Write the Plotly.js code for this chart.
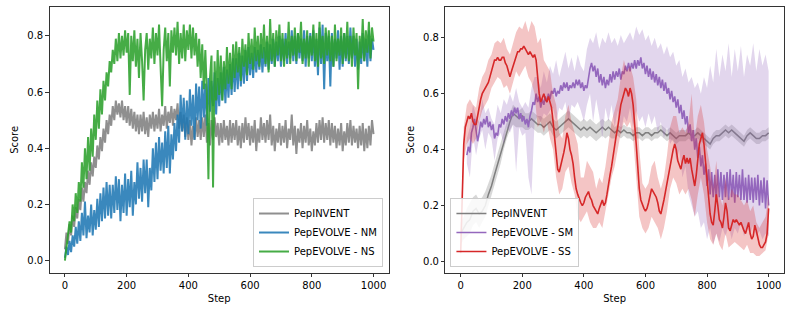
<!DOCTYPE html>
<html>
<head>
<meta charset="utf-8">
<script src="https://cdn.plot.ly/plotly-3.0.1.min.js"></script>
<style>
html,body{margin:0;padding:0;background:#fff;}
#chart{width:793px;height:316px;}
</style>
</head>
<body>
<div id="chart"></div>
<script>
// ---------- Left panel (steps 0..1000, every 5) ----------
const leftPepINVENT = [
0.04,0.10,0.06,0.13,0.09,0.16,0.12,0.19,0.15,0.22,
0.18,0.26,0.21,0.28,0.24,0.32,0.27,0.35,0.30,0.37,
0.33,0.41,0.36,0.44,0.39,0.47,0.42,0.50,0.45,0.52,
0.48,0.55,0.50,0.57,0.52,0.56,0.51,0.57,0.50,0.55,
0.49,0.55,0.48,0.54,0.47,0.53,0.46,0.52,0.45,0.52,
0.46,0.53,0.45,0.51,0.44,0.52,0.47,0.53,0.46,0.52,
0.47,0.54,0.46,0.52,0.48,0.55,0.47,0.53,0.49,0.55,
0.48,0.54,0.50,0.56,0.47,0.53,0.46,0.52,0.44,0.51,
0.43,0.50,0.41,0.48,0.43,0.51,0.44,0.50,0.43,0.51,
0.44,0.52,0.42,0.49,0.41,0.50,0.43,0.51,0.44,0.49,
0.41,0.49,0.42,0.50,0.43,0.48,0.41,0.50,0.42,0.49,
0.43,0.50,0.41,0.48,0.40,0.49,0.42,0.51,0.43,0.49,
0.41,0.48,0.42,0.50,0.39,0.47,0.42,0.51,0.43,0.49,
0.42,0.50,0.43,0.52,0.41,0.48,0.39,0.47,0.42,0.49,
0.41,0.48,0.42,0.50,0.40,0.47,0.43,0.52,0.41,0.48,
0.38,0.47,0.42,0.49,0.40,0.48,0.42,0.50,0.41,0.47,
0.39,0.46,0.41,0.49,0.42,0.50,0.43,0.51,0.42,0.49,
0.43,0.50,0.41,0.49,0.42,0.48,0.40,0.47,0.41,0.49,
0.39,0.46,0.41,0.49,0.42,0.50,0.41,0.48,0.42,0.47,
0.40,0.48,0.41,0.49,0.39,0.47,0.40,0.48,0.41,0.50,
0.45];
const leftNM = [
0.01,0.05,0.02,0.07,0.03,0.09,0.05,0.12,0.06,0.14,
0.07,0.17,0.09,0.21,0.08,0.16,0.10,0.20,0.09,0.18,
0.11,0.22,0.12,0.24,0.14,0.26,0.15,0.28,0.16,0.27,
0.15,0.27,0.17,0.30,0.18,0.29,0.14,0.27,0.17,0.31,
0.16,0.29,0.19,0.32,0.16,0.28,0.20,0.35,0.22,0.33,
0.21,0.36,0.24,0.36,0.19,0.33,0.25,0.40,0.28,0.42,
0.29,0.44,0.32,0.42,0.31,0.46,0.33,0.48,0.31,0.45,
0.36,0.49,0.39,0.52,0.42,0.59,0.46,0.58,0.43,0.57,
0.45,0.61,0.48,0.59,0.43,0.63,0.50,0.62,0.47,0.64,
0.51,0.63,0.48,0.65,0.53,0.64,0.55,0.67,0.52,0.65,
0.55,0.67,0.57,0.69,0.56,0.68,0.58,0.70,0.59,0.72,
0.60,0.72,0.61,0.74,0.62,0.73,0.63,0.75,0.64,0.76,
0.66,0.74,0.65,0.76,0.67,0.75,0.68,0.77,0.67,0.76,
0.69,0.78,0.68,0.77,0.70,0.79,0.69,0.78,0.71,0.80,
0.69,0.79,0.71,0.81,0.70,0.78,0.72,0.82,0.71,0.80,
0.70,0.81,0.72,0.79,0.71,0.82,0.69,0.80,0.72,0.81,
0.71,0.82,0.69,0.79,0.66,0.83,0.70,0.84,0.61,0.81,
0.71,0.80,0.62,0.81,0.69,0.79,0.72,0.82,0.68,0.80,
0.69,0.81,0.71,0.80,0.70,0.83,0.72,0.80,0.69,0.79,
0.68,0.78,0.70,0.81,0.71,0.79,0.69,0.82,0.71,0.79,
0.75];
const leftNS = [
0.00,0.05,0.08,0.14,0.10,0.20,0.14,0.24,0.17,0.28,
0.21,0.35,0.26,0.40,0.29,0.44,0.32,0.47,0.37,0.52,
0.43,0.57,0.47,0.61,0.52,0.64,0.57,0.67,0.62,0.71,
0.67,0.75,0.70,0.79,0.71,0.81,0.72,0.80,0.73,0.82,
0.74,0.81,0.59,0.80,0.71,0.82,0.69,0.79,0.65,0.81,
0.71,0.57,0.75,0.81,0.68,0.79,0.72,0.83,0.70,0.81,
0.73,0.84,0.69,0.55,0.75,0.83,0.71,0.81,0.62,0.82,
0.74,0.83,0.73,0.85,0.70,0.81,0.72,0.84,0.71,0.82,
0.75,0.84,0.72,0.83,0.73,0.81,0.69,0.79,0.65,0.77,
0.61,0.75,0.59,0.29,0.65,0.73,0.26,0.71,0.57,0.75,
0.59,0.73,0.57,0.71,0.61,0.76,0.63,0.74,0.61,0.77,
0.65,0.78,0.67,0.76,0.64,0.79,0.69,0.77,0.66,0.81,
0.70,0.79,0.68,0.83,0.71,0.80,0.69,0.81,0.72,0.84,
0.70,0.80,0.67,0.86,0.71,0.81,0.69,0.82,0.73,0.84,
0.71,0.81,0.69,0.79,0.72,0.85,0.70,0.80,0.73,0.83,
0.71,0.81,0.74,0.85,0.70,0.79,0.72,0.82,0.69,0.80,
0.73,0.84,0.71,0.81,0.69,0.85,0.72,0.80,0.70,0.83,
0.73,0.82,0.71,0.80,0.69,0.84,0.71,0.79,0.73,0.83,
0.70,0.81,0.72,0.85,0.71,0.80,0.69,0.83,0.73,0.81,
0.61,0.80,0.72,0.86,0.71,0.82,0.74,0.85,0.72,0.83,
0.78];

// ---------- Right panel ----------
// PepINVENT mean and band (steps 0..1000, every 10)
const rightPepINVENT = [
0.10,0.12,0.14,0.15,0.18,0.19,0.17,0.18,0.20,0.24,
0.27,0.31,0.35,0.39,0.43,0.47,0.50,0.53,0.52,0.51,
0.52,0.50,0.50,0.51,0.50,0.49,0.49,0.48,0.49,0.50,
0.48,0.47,0.48,0.49,0.50,0.51,0.50,0.49,0.48,0.47,
0.48,0.47,0.48,0.47,0.46,0.47,0.48,0.47,0.48,0.47,
0.46,0.47,0.46,0.47,0.46,0.46,0.45,0.46,0.46,0.45,
0.46,0.46,0.45,0.46,0.46,0.47,0.46,0.45,0.46,0.45,
0.44,0.45,0.45,0.45,0.46,0.45,0.45,0.46,0.45,0.44,
0.43,0.42,0.44,0.45,0.45,0.46,0.47,0.46,0.47,0.46,
0.45,0.44,0.43,0.45,0.46,0.45,0.44,0.44,0.45,0.45,
0.46];
const rightPepINVENTLo = [
0.06,0.08,0.09,0.10,0.13,0.14,0.12,0.14,0.16,0.20,
0.23,0.27,0.31,0.35,0.40,0.44,0.47,0.49,0.48,0.48,
0.48,0.47,0.47,0.48,0.47,0.46,0.46,0.45,0.46,0.47,
0.45,0.44,0.45,0.46,0.47,0.48,0.47,0.46,0.45,0.44,
0.45,0.44,0.45,0.44,0.43,0.44,0.45,0.44,0.45,0.44,
0.44,0.45,0.44,0.45,0.44,0.44,0.43,0.44,0.44,0.43,
0.44,0.44,0.43,0.44,0.44,0.45,0.44,0.43,0.44,0.43,
0.42,0.43,0.43,0.43,0.44,0.43,0.43,0.44,0.43,0.42,
0.41,0.40,0.42,0.43,0.43,0.44,0.45,0.44,0.45,0.44,
0.43,0.42,0.41,0.43,0.44,0.43,0.42,0.42,0.43,0.43,
0.44];
const rightPepINVENTHi = [
0.14,0.16,0.19,0.21,0.23,0.24,0.22,0.23,0.25,0.28,
0.31,0.35,0.39,0.43,0.46,0.50,0.53,0.56,0.55,0.54,
0.55,0.53,0.53,0.54,0.53,0.52,0.52,0.51,0.52,0.53,
0.51,0.50,0.51,0.52,0.53,0.54,0.53,0.52,0.51,0.50,
0.51,0.50,0.51,0.50,0.49,0.50,0.51,0.50,0.51,0.50,
0.48,0.49,0.48,0.49,0.48,0.48,0.47,0.48,0.48,0.47,
0.48,0.48,0.47,0.48,0.48,0.49,0.48,0.47,0.48,0.47,
0.46,0.47,0.47,0.47,0.48,0.47,0.47,0.48,0.47,0.46,
0.45,0.44,0.46,0.47,0.47,0.48,0.49,0.48,0.49,0.48,
0.47,0.46,0.45,0.47,0.48,0.47,0.46,0.46,0.47,0.47,
0.48];

// PepEVOLVE - SM mean (steps 20..1000, every 5)
const rightSM = [
0.38,0.41,0.39,0.46,0.48,0.51,
0.47,0.43,0.46,0.50,0.48,0.51,0.49,0.52,0.48,0.50,
0.47,0.49,0.44,0.46,0.45,0.49,0.48,0.51,0.49,0.52,
0.50,0.53,0.51,0.54,0.52,0.55,0.53,0.55,0.51,0.53,
0.50,0.52,0.49,0.51,0.48,0.52,0.54,0.57,0.56,0.60,
0.57,0.59,0.55,0.58,0.56,0.59,0.57,0.60,0.58,0.61,
0.60,0.62,0.59,0.61,0.60,0.63,0.61,0.64,0.62,0.64,
0.61,0.63,0.62,0.64,0.62,0.65,0.63,0.65,0.62,0.64,
0.61,0.63,0.62,0.66,0.69,0.71,0.68,0.70,0.66,0.69,
0.64,0.67,0.63,0.66,0.62,0.65,0.63,0.67,0.64,0.68,
0.65,0.68,0.66,0.69,0.65,0.68,0.67,0.70,0.68,0.71,
0.68,0.71,0.69,0.72,0.69,0.72,0.70,0.73,0.69,0.71,
0.67,0.70,0.66,0.69,0.65,0.68,0.64,0.67,0.63,0.66,
0.62,0.65,0.61,0.64,0.60,0.62,0.58,0.61,0.57,0.59,
0.55,0.58,0.53,0.56,0.51,0.54,0.49,0.52,0.46,0.49,
0.43,0.47,0.40,0.44,0.37,0.41,0.34,0.38,0.31,0.35,
0.27,0.33,0.24,0.32,0.23,0.31,0.22,0.33,0.23,0.32,
0.22,0.31,0.23,0.32,0.22,0.33,0.23,0.31,0.21,0.32,
0.23,0.31,0.22,0.33,0.22,0.30,0.21,0.31,0.22,0.30,
0.21,0.30,0.22,0.31,0.20,0.29,0.21,0.30,0.19,0.29,
0.20];
// SM band (steps 20..1000, every 10)
const rightSMLo = [
0.35,0.30,0.45,0.38,0.44,0.47,0.40,0.46,
0.44,0.36,0.44,0.46,0.42,0.48,0.46,0.49,0.32,0.48,
0.45,0.46,0.30,0.24,0.50,0.52,0.50,0.53,0.52,0.54,
0.55,0.50,0.55,0.54,0.57,0.50,0.56,0.55,0.57,0.54,
0.50,0.56,0.60,0.50,0.58,0.52,0.44,0.55,0.50,0.56,
0.48,0.54,0.46,0.52,0.50,0.55,0.48,0.54,0.50,0.52,
0.48,0.53,0.49,0.52,0.46,0.50,0.44,0.48,0.42,0.44,
0.36,0.40,0.30,0.34,0.24,0.20,0.16,0.18,0.12,0.14,
0.08,0.12,0.06,0.10,0.07,0.12,0.09,0.13,0.08,0.12,
0.10,0.14,0.09,0.12,0.10,0.13,0.09,0.11,0.08,0.10,
0.09];
const rightSMHi = [
0.44,0.48,0.56,0.52,0.50,0.58,0.53,0.55,
0.51,0.49,0.56,0.53,0.58,0.56,0.60,0.57,0.62,0.57,
0.55,0.57,0.55,0.62,0.66,0.66,0.62,0.68,0.64,0.70,
0.67,0.72,0.66,0.70,0.75,0.69,0.73,0.68,0.74,0.70,
0.68,0.76,0.80,0.78,0.82,0.76,0.80,0.78,0.82,0.78,
0.80,0.77,0.81,0.78,0.80,0.82,0.79,0.84,0.81,0.83,
0.79,0.81,0.77,0.80,0.76,0.78,0.74,0.77,0.73,0.75,
0.70,0.72,0.66,0.69,0.64,0.66,0.62,0.64,0.60,0.66,
0.62,0.70,0.64,0.76,0.66,0.74,0.68,0.78,0.66,0.76,
0.68,0.77,0.66,0.74,0.70,0.78,0.68,0.76,0.70,0.74,
0.68];

// PepEVOLVE - SS mean (steps 0..1000, every 5)
const rightSS = [
0.03,0.28,0.42,0.48,0.50,0.52,0.51,0.53,0.50,0.49,
0.49,0.52,0.56,0.58,0.60,0.61,0.62,0.63,0.64,0.66,
0.68,0.70,0.72,0.72,0.73,0.72,0.72,0.73,0.73,0.71,
0.70,0.68,0.66,0.68,0.70,0.72,0.74,0.75,0.75,0.76,
0.76,0.77,0.76,0.75,0.74,0.75,0.74,0.73,0.74,0.72,
0.66,0.60,0.57,0.59,0.60,0.58,0.57,0.59,0.57,0.55,
0.50,0.44,0.38,0.33,0.32,0.34,0.36,0.39,0.42,0.46,
0.44,0.40,0.38,0.35,0.30,0.26,0.24,0.22,0.21,0.20,
0.21,0.23,0.24,0.25,0.23,0.22,0.20,0.19,0.18,0.17,
0.19,0.21,0.22,0.20,0.21,0.24,0.28,0.31,0.34,0.38,
0.42,0.45,0.48,0.52,0.56,0.58,0.60,0.62,0.61,0.59,
0.62,0.60,0.56,0.50,0.42,0.34,0.26,0.22,0.20,0.19,
0.18,0.19,0.21,0.24,0.26,0.25,0.24,0.23,0.21,0.18,
0.17,0.19,0.22,0.25,0.28,0.31,0.35,0.38,0.40,0.42,
0.40,0.36,0.34,0.33,0.36,0.38,0.35,0.37,0.35,0.37,
0.33,0.30,0.27,0.31,0.38,0.42,0.44,0.46,0.42,0.36,
0.28,0.22,0.17,0.14,0.13,0.18,0.24,0.20,0.15,0.14,
0.12,0.16,0.21,0.18,0.12,0.11,0.13,0.15,0.14,0.15,
0.14,0.13,0.14,0.12,0.11,0.10,0.12,0.14,0.10,0.08,
0.09,0.13,0.11,0.08,0.06,0.05,0.05,0.06,0.07,0.10,
0.19];
// SS band (steps 0..1000, every 10)
const rightSSLo = [
0.00,0.36,0.42,0.44,0.42,0.44,0.50,0.54,0.56,0.58,
0.62,0.64,0.66,0.65,0.62,0.63,0.60,0.64,0.68,0.66,
0.68,0.70,0.66,0.64,0.60,0.48,0.50,0.46,0.50,0.44,
0.40,0.30,0.24,0.26,0.32,0.34,0.28,0.24,0.16,0.14,
0.16,0.18,0.14,0.12,0.12,0.14,0.12,0.18,0.24,0.30,
0.34,0.40,0.46,0.50,0.48,0.50,0.44,0.30,0.16,0.12,
0.10,0.12,0.16,0.14,0.12,0.08,0.12,0.18,0.26,0.30,
0.28,0.24,0.26,0.24,0.26,0.22,0.16,0.24,0.30,0.24,
0.14,0.08,0.06,0.10,0.06,0.04,0.10,0.05,0.06,0.07,
0.06,0.05,0.04,0.06,0.03,0.03,0.02,0.02,0.03,0.04,
0.10];
const rightSSHi = [
0.10,0.48,0.56,0.58,0.56,0.55,0.62,0.66,0.68,0.72,
0.74,0.78,0.79,0.78,0.80,0.76,0.74,0.78,0.82,0.84,
0.83,0.86,0.82,0.86,0.84,0.78,0.80,0.72,0.70,0.68,
0.60,0.56,0.46,0.44,0.52,0.56,0.50,0.46,0.42,0.30,
0.30,0.36,0.34,0.32,0.26,0.30,0.28,0.34,0.42,0.50,
0.54,0.58,0.66,0.72,0.68,0.70,0.66,0.58,0.40,0.28,
0.26,0.28,0.34,0.36,0.30,0.26,0.30,0.38,0.48,0.52,
0.52,0.46,0.48,0.46,0.50,0.60,0.44,0.52,0.56,0.50,
0.40,0.34,0.26,0.36,0.24,0.20,0.30,0.22,0.26,0.24,
0.24,0.22,0.20,0.22,0.18,0.20,0.14,0.12,0.14,0.16,
0.24];

const legendNamesLeft = ['PepINVENT', 'PepEVOLVE - NM', 'PepEVOLVE - NS'];
const legendNamesRight = ['PepINVENT', 'PepEVOLVE - SM', 'PepEVOLVE - SS'];
const xTicks = [0, 200, 400, 600, 800, 1000];
const yTicks = [0.0, 0.2, 0.4, 0.6, 0.8];

// sampling grids of the recorded series
function grid(start, n, inc){ const a=[]; for(let i=0;i<n;i++) a.push(start+i*inc); return a; }
function band(x, lo, hi){ return {x: x.concat(x.slice().reverse()), y: hi.concat(lo.slice().reverse())}; }

const C = {gray:'#7f7f7f', blue:'#1f77b4', green:'#2ca02c', purple:'#9467bd', red:'#d62728'};
const FONT = 'DejaVu Sans, Liberation Sans, sans-serif';

const xL5 = grid(0, leftPepINVENT.length, 5);
const xR10 = grid(0, rightPepINVENT.length, 10);
const xSM5 = grid(20, rightSM.length, 5);
const xSM10 = grid(20, rightSMLo.length, 10);
const xSS5 = grid(0, rightSS.length, 5);

const lineL = (y, name, color) => ({x: xL5, y: y, name: name, type:'scatter', mode:'lines',
  line:{color:color, width:2}, opacity:0.88, xaxis:'x', yaxis:'y', legend:'legend'});

const bG = band(xR10, rightPepINVENTLo, rightPepINVENTHi);
const bP = band(xSM10, rightSMLo, rightSMHi);
const bR = band(xR10, rightSSLo, rightSSHi);

const traces = [
  lineL(leftPepINVENT, legendNamesLeft[0], C.gray),
  lineL(leftNM, legendNamesLeft[1], C.blue),
  lineL(leftNS, legendNamesLeft[2], C.green),
  {x:bG.x, y:bG.y, type:'scatter', mode:'lines', fill:'toself', fillcolor:'rgba(127,127,127,0.3)', line:{width:0}, showlegend:false, xaxis:'x2', yaxis:'y2', hoverinfo:'skip'},
  {x:xR10, y:rightPepINVENT, name:legendNamesRight[0], type:'scatter', mode:'lines', line:{color:C.gray, width:1.5}, xaxis:'x2', yaxis:'y2', legend:'legend2'},
  {x:bP.x, y:bP.y, type:'scatter', mode:'lines', fill:'toself', fillcolor:'rgba(148,103,189,0.27)', line:{width:0}, showlegend:false, xaxis:'x2', yaxis:'y2', hoverinfo:'skip'},
  {x:xSM5, y:rightSM, name:legendNamesRight[1], type:'scatter', mode:'lines', line:{color:C.purple, width:1.6}, xaxis:'x2', yaxis:'y2', legend:'legend2'},
  {x:bR.x, y:bR.y, type:'scatter', mode:'lines', fill:'toself', fillcolor:'rgba(214,39,40,0.27)', line:{width:0}, showlegend:false, xaxis:'x2', yaxis:'y2', hoverinfo:'skip'},
  {x:xSS5, y:rightSS, name:legendNamesRight[2], type:'scatter', mode:'lines', line:{color:C.red, width:1.6}, xaxis:'x2', yaxis:'y2', legend:'legend2'}
];

const axBase = {showline:true, mirror:true, linecolor:'#000', linewidth:0.8, ticks:'outside', ticklen:3.5,
  tickwidth:0.8, tickcolor:'#000', showgrid:false, zeroline:false, tickfont:{family:FONT, size:10, color:'#000'}};
const xa = d => Object.assign({}, axBase, {domain:d, range:[-50,1050], tickvals:xTicks, ticktext:xTicks.map(String),
  title:{text:'Step', font:{family:FONT, size:10, color:'#000'}, standoff:4}});
const ya = (d, r, anchor) => Object.assign({}, axBase, {domain:d, range:r, tickvals:yTicks, ticktext:yTicks.map(v=>v.toFixed(1)),
  anchor:anchor, title:{text:'Score', font:{family:FONT, size:10, color:'#000'}, standoff:6}});

const legBase = {bgcolor:'rgba(255,255,255,0.85)', bordercolor:'#cccccc', borderwidth:1,
  font:{family:FONT, size:10, color:'#000'}, itemwidth:30, tracegroupgap:0, yanchor:'bottom', xref:'paper', yref:'paper'};

const layout = {
  width:793, height:316, margin:{l:0, r:0, t:0, b:0},
  paper_bgcolor:'#fff', plot_bgcolor:'#fff', hovermode:false,
  font:{family:FONT, size:10, color:'#000'},
  xaxis: Object.assign(xa([0.0624, 0.4905]), {anchor:'y'}),
  yaxis: ya([0.137, 0.978], [-0.043, 0.903], 'x'),
  xaxis2: Object.assign(xa([0.5615, 0.9887]), {anchor:'y2'}),
  yaxis2: ya([0.137, 0.978], [-0.04, 0.91], 'x2'),
  legend: Object.assign({}, legBase, {x:0.483, xanchor:'right', y:0.155}),
  legend2: Object.assign({}, legBase, {x:0.568, xanchor:'left', y:0.155})
};

Plotly.newPlot('chart', traces, layout, {displayModeBar:false, staticPlot:true});
</script>
</body>
</html>
